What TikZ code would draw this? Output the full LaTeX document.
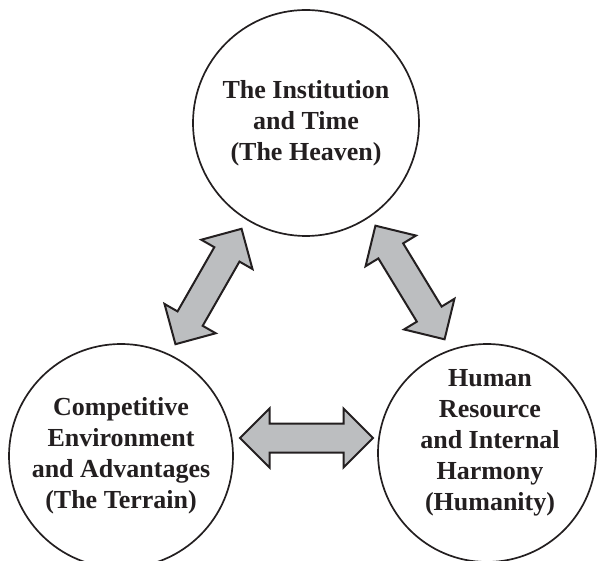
\documentclass[tikz,border=0pt]{standalone}
\usepackage{fontspec}
\setmainfont{Liberation Serif}
\usepackage{tikz}
\usetikzlibrary{shapes.arrows}
\definecolor{inkgray}{HTML}{231F20}
\definecolor{arrowgray}{HTML}{BCBEC0}

\begin{document}
\begin{tikzpicture}[x=1pt,y=1pt]
  \tikzset{sphere/.style = {shape=circle,draw=inkgray,line width=1.7pt,inner sep=0pt}}
  \tikzset{sphtext/.style = {align=center,text=inkgray,inner sep=0pt,font=\fontsize{26}{31}\selectfont\bfseries}}
  \tikzset{fatarrow/.style = {shape=double arrow,draw=inkgray,fill=arrowgray,line width=2pt,
      double arrow head extend=15pt,inner xsep=0pt,inner ysep=13.5pt,minimum height=133pt}}

  \useasboundingbox (0,0) rectangle (597,560);

	\node[sphere,minimum size=226pt] (heaven) at (306,437) {};
	\node[sphere,minimum size=224pt] (terrain) at (121,104) {};
	\node[sphere,minimum size=218pt] (humanity) at (487,107) {};

	\node[sphtext] (heaventxt) at (heaven.center) {The Institution\\and Time\\(The Heaven)};
	\node[sphtext] (terraintxt) at (terrain.center) {Competitive\\Environment\\and Advantages\\(The Terrain)};
	\node[sphtext] (humanitytxt) at ([shift={(3,10)}]humanity.center) {Human\\Resource\\and Internal\\Harmony\\(Humanity)};

	% arrow tips
	\coordinate (ulA) at (175,215);
	\coordinate (ulB) at (242,332);
	\coordinate (urA) at (445,220);
	\coordinate (urB) at (375,335);
	\coordinate (hA) at (238,122);
	\coordinate (hB) at (375,122);

    \foreach \from/\to in {ulA/ulB, urA/urB, hA/hB}
    \path (\from) -- (\to) node[midway,sloped,fatarrow] {};

\end{tikzpicture}
\end{document}
